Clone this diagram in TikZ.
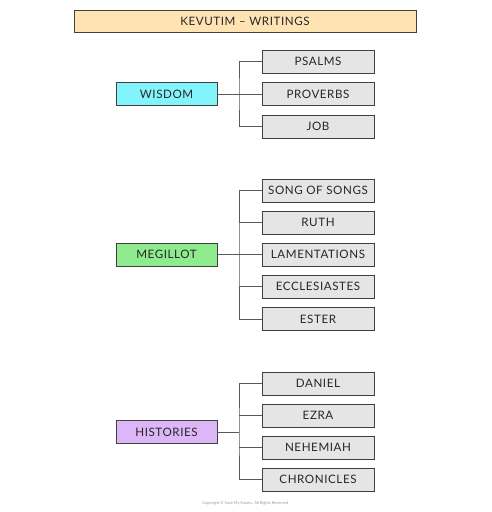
\documentclass[tikz,border=0pt]{standalone}
\usepackage{fontspec}
\setmainfont{Lato}
\begin{document}
\begin{tikzpicture}[x=1pt,y=-1pt,
  every node/.style={font=\fontsize{11.6}{13}\selectfont\addfontfeatures{LetterSpace=5}, text=black!85},
  box/.style={draw=black!75, line width=0.7pt, minimum height=23pt, inner sep=0pt, text height=8.3pt, text depth=0pt},
  child/.style={box, fill=black!10, minimum width=112pt},
  parent/.style={box, minimum width=101pt},
  conn/.style={draw=black!65, line width=0.7pt}]
\useasboundingbox (0,0) rectangle (491,512);
\definecolor{titlefill}{HTML}{FFE3B3}
\definecolor{wisfill}{HTML}{84F4FC}
\definecolor{megfill}{HTML}{8EEC8E}
\definecolor{hisfill}{HTML}{DDB6F8}
\node[box, fill=titlefill, minimum width=342pt, minimum height=22pt] (title) at (245,21) {KEVUTIM -- WRITINGS};
% Wisdom
\node[parent, fill=wisfill] (wis) at (166.5,94) {WISDOM};
\node[child] (psa) at (318,61.5) {PSALMS};
\node[child] (pro) at (318,94) {PROVERBS};
\node[child] (job) at (318,126.5) {JOB};
\coordinate (wj) at (239,94);
\draw[conn] (wis.east) -- (wj);
\draw[conn] (psa.west) -| (wj) |- (job.west);
\draw[conn] (wj) -- (pro.west);
% Megillot
\node[parent, fill=megfill] (meg) at (166.5,254.5) {MEGILLOT};
\node[child] (song) at (318,190.5) {SONG OF SONGS};
\node[child] (ruth) at (318,222.5) {RUTH};
\node[child] (lam) at (318,254.5) {LAMENTATIONS};
\node[child] (ecc) at (318,286.5) {ECCLESIASTES};
\node[child] (est) at (318,319) {ESTER};
\coordinate (mj) at (239,254.5);
\draw[conn] (meg.east) -- (mj);
\draw[conn] (song.west) -| (mj) |- (est.west);
\draw[conn] (ruth.west) -- (ruth.west -| mj);
\draw[conn] (lam.west) -- (mj);
\draw[conn] (ecc.west) -- (ecc.west -| mj);
% Histories
\node[parent, fill=hisfill] (his) at (166.5,432) {HISTORIES};
\node[child] (dan) at (318,383.5) {DANIEL};
\node[child] (ezr) at (318,415.5) {EZRA};
\node[child] (neh) at (318,447.5) {NEHEMIAH};
\node[child] (chr) at (318,479.5) {CHRONICLES};
\coordinate (hj) at (239,432);
\draw[conn] (his.east) -- (hj);
\draw[conn] (dan.west) -| (hj) |- (chr.west);
\draw[conn] (ezr.west) -- (ezr.west -| hj);
\draw[conn] (neh.west) -- (neh.west -| hj);
\node[font=\fontsize{4}{5}\selectfont, text=black!40] (copy) at (245,503) {Copyright \textcopyright\ Save My Exams. All Rights Reserved};
\end{tikzpicture}
\end{document}
